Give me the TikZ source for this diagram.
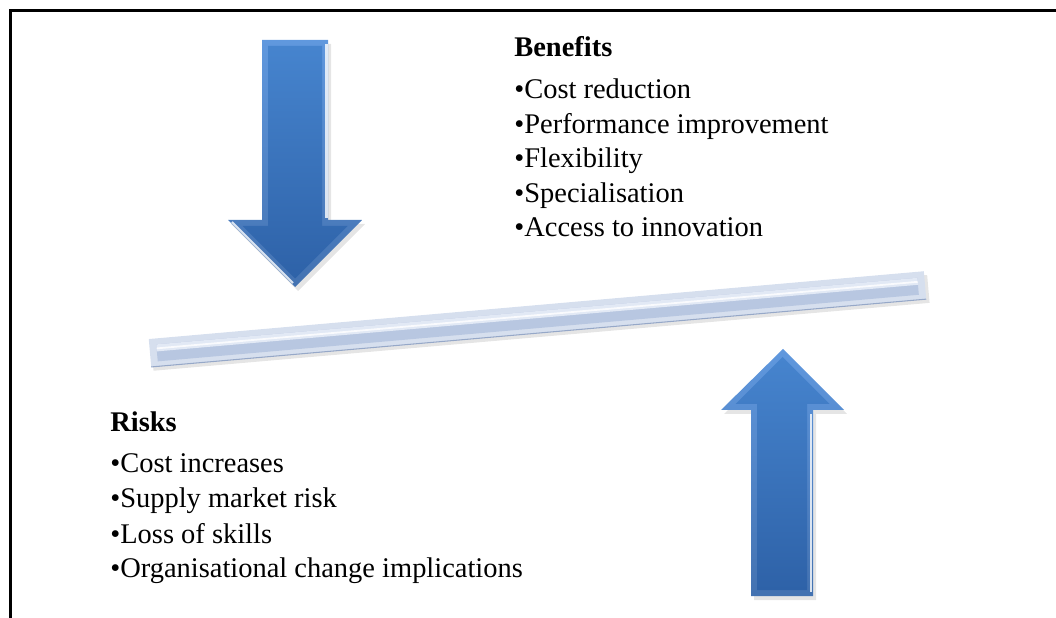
\documentclass[tikz,border=0pt]{standalone}
\usepackage{fontspec}
\setmainfont{Liberation Serif}
\usepackage{xcolor}
\usetikzlibrary{calc}

\definecolor{arrowtop}{RGB}{70,132,206}
\definecolor{arrowbot}{RGB}{46,98,168}
\definecolor{arrowrim}{RGB}{96,152,222}
\definecolor{barrim}{RGB}{214,223,238}
\definecolor{barbody}{RGB}{184,199,225}
\definecolor{barlight}{RGB}{226,233,245}
\definecolor{bardark}{RGB}{150,168,200}

\tikzset{
  frame/.style={line width=1.7pt, black},
  rim/.style={top color=arrowrim, bottom color=arrowbot!90},
  body/.style={top color=arrowtop, bottom color=arrowbot},
  shine/.style={white, opacity=.8, line width=1.2pt},
  shadow/.style={fill=black, opacity=.1},
  head/.style={font=\bfseries\fontsize{16.2}{19}\selectfont, anchor=base west, inner sep=0pt},
  item/.style={font=\fontsize{16.2}{19}\selectfont, anchor=base west, inner sep=0pt}
}

\begin{document}
\begin{tikzpicture}[x=0.02cm, y=-0.02cm]
    \useasboundingbox (0,0) rectangle (1056,618);
    % frame, open at right and bottom
    \draw[frame] (1056,10.5) -- (10.5,10.5) -- (10.5,618);

    % down arrow
    \coordinate (d_1) at (262,40);  \coordinate (d_2) at (328,40);
    \coordinate (d_3) at (328,220); \coordinate (d_4) at (362,220);
    \coordinate (d_5) at (295,287); \coordinate (d_6) at (228,220);
    \coordinate (d_7) at (262,220);
    \fill[shadow] ($(d_1)+(3,4)$) -- ($(d_2)+(3,4)$) -- ($(d_3)+(3,4)$) -- ($(d_4)+(3,4)$)
        -- ($(d_5)+(3,4)$) -- ($(d_6)+(3,4)$) -- ($(d_7)+(3,4)$) -- cycle;
    \shade[rim] (d_1) -- (d_2) -- (d_3) -- (d_4) -- (d_5) -- (d_6) -- (d_7) -- cycle;
    \shade[body] (268,46) -- (322,46) -- (322,226) -- (347.5,226) -- (295,278.5)
        -- (242.5,226) -- (268,226) -- cycle;
    \draw[shine] (326.5,44) -- (326.5,218);
    \draw[shine] (232,222) -- (293,283);

    % up arrow
    \coordinate (u_1) at (751,596); \coordinate (u_2) at (813,596);
    \coordinate (u_3) at (813,410); \coordinate (u_4) at (844,410);
    \coordinate (u_5) at (783,349); \coordinate (u_6) at (721,410);
    \coordinate (u_7) at (751,410);
    \fill[shadow] ($(u_1)+(3,4)$) -- ($(u_2)+(3,4)$) -- ($(u_3)+(3,4)$) -- ($(u_4)+(3,4)$)
        -- ($(u_5)+(3,4)$) -- ($(u_6)+(3,4)$) -- ($(u_7)+(3,4)$) -- cycle;
    \shade[rim] (u_1) -- (u_2) -- (u_3) -- (u_4) -- (u_5) -- (u_6) -- (u_7) -- cycle;
    \shade[body] (757,590) -- (807,590) -- (807,404) -- (829.5,404) -- (782.5,357)
        -- (735.5,404) -- (757,404) -- cycle;
    \draw[shine] (811,414) -- (811,592);

    % the beam
    \begin{scope}[shift={(150,353)}, rotate=5]
      \fill[shadow] (2,-10) -- (781,-10) -- (781,18) -- (2,18) -- cycle;
      \fill[barrim] (0,-14) -- (778,-14) -- (778,14) -- (0,14) -- cycle;
      \fill[barbody] (7,-8) -- (771,-8) -- (771,9) -- (7,9) -- cycle;
      \fill[barlight] (7,-8) -- (771,-8) -- (771,-1) -- (7,-1) -- cycle;
      \draw[white, opacity=.8, line width=1pt] (7,-4) -- (771,-4);
      \draw[bardark, line width=.6pt] (0,14) -- (778,14);
    \end{scope}

    % benefits list
    \node[head] (benefits) at (514,57) {Benefits};
    \foreach \t [count=\i] in {Cost reduction, Performance improvement, Flexibility,
        Specialisation, Access to innovation}
      \node[item] (b_\i) at (514,{99+34.5*(\i-1)}) {\textbullet\t};

    % risks list
    \node[head] (risks) at (110,432) {Risks};
    \foreach \t [count=\i] in {Cost increases, Supply market risk, Loss of skills,
        Organisational change implications}
      \node[item] (r_\i) at (110,{473+35*(\i-1)}) {\textbullet\t};
\end{tikzpicture}
\end{document}
